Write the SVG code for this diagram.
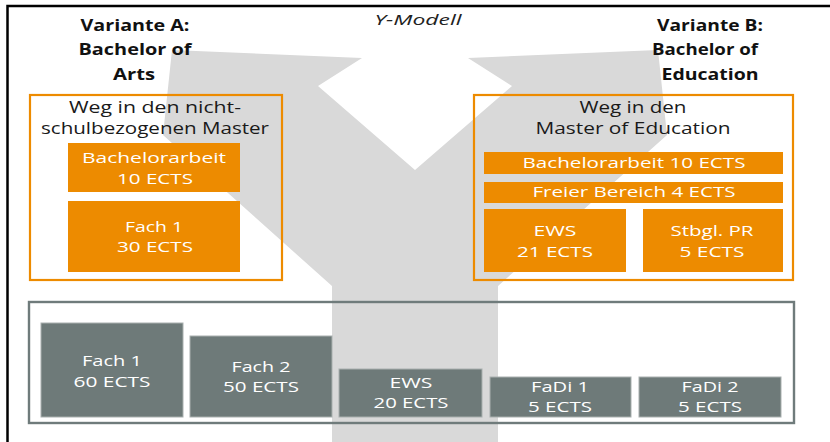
<svg xmlns="http://www.w3.org/2000/svg" width="830" height="442" viewBox="0 0 830 442">
<style>
text{font-family:"Open Sans","DejaVu Sans",sans-serif;text-anchor:middle}
.hd{font-weight:bold;font-size:16.5px;fill:#111}
.ti{font-size:16px;fill:#1a1a1a}
.w{font-size:15px;fill:#fff}
.ofr{fill:none;stroke:#ed8b00;stroke-width:2.2}
.ob{fill:#ed8b00}
.gb{fill:#6e7a79;stroke:#a9b0af;stroke-width:1}
.gfr{fill:none;stroke:#6f7b7b;stroke-width:2.4}
</style>
<rect width="830" height="442" fill="#fff"/>
<g id="y-shape">
<polygon fill="#d9d9d9" points="172,50 362,58 318,86 415,170 512,86 468,58 658,50 667,135 498,286 498,442 332,442 332,286 163,135"/>
</g>
<path d="M7.5 442 V6 H830" fill="none" stroke="#000" stroke-width="2.5"/>
<g id="title"><text x="418" y="25" font-style="italic" font-size="14" fill="#222" textLength="87" lengthAdjust="spacingAndGlyphs">Y-Modell</text></g>
<g id="variante-a">
<text class="hd" x="135" y="31" textLength="109" lengthAdjust="spacingAndGlyphs">Variante A:</text>
<text class="hd" x="135" y="55" textLength="113" lengthAdjust="spacingAndGlyphs">Bachelor of</text>
<text class="hd" x="134" y="80" textLength="42" lengthAdjust="spacingAndGlyphs">Arts</text>
</g>
<g id="variante-b">
<text class="hd" x="710" y="31" textLength="106" lengthAdjust="spacingAndGlyphs">Variante B:</text>
<text class="hd" x="705" y="55" textLength="106" lengthAdjust="spacingAndGlyphs">Bachelor of</text>
<text class="hd" x="710" y="80" textLength="97" lengthAdjust="spacingAndGlyphs">Education</text>
</g>
<g id="weg-nicht-schulbezogen">
<rect class="ofr" x="30" y="95" width="252" height="185"/>
<text class="ti" x="155" y="113" textLength="172" lengthAdjust="spacingAndGlyphs">Weg in den nicht-</text>
<text class="ti" x="155" y="134" textLength="228" lengthAdjust="spacingAndGlyphs">schulbezogenen Master</text>
</g>
<g id="a-bachelorarbeit">
<rect class="ob" x="68" y="143" width="172" height="49"/>
<text class="w" x="154" y="163" textLength="144" lengthAdjust="spacingAndGlyphs">Bachelorarbeit</text>
<text class="w" x="155" y="184" textLength="76" lengthAdjust="spacingAndGlyphs">10 ECTS</text>
</g>
<g id="a-fach1">
<rect class="ob" x="68" y="201" width="172" height="71"/>
<text class="w" x="154" y="232" textLength="58" lengthAdjust="spacingAndGlyphs">Fach 1</text>
<text class="w" x="155" y="252" textLength="76" lengthAdjust="spacingAndGlyphs">30 ECTS</text>
</g>
<g id="weg-master-education">
<rect class="ofr" x="474" y="95" width="319" height="185"/>
<text class="ti" x="633" y="113" textLength="107" lengthAdjust="spacingAndGlyphs">Weg in den</text>
<text class="ti" x="633" y="134" textLength="195" lengthAdjust="spacingAndGlyphs">Master of Education</text>
</g>
<g id="b-bachelorarbeit">
<rect class="ob" x="484" y="152" width="299" height="22"/>
<text class="w" x="634" y="168" textLength="223" lengthAdjust="spacingAndGlyphs">Bachelorarbeit 10 ECTS</text>
</g>
<g id="b-freier-bereich">
<rect class="ob" x="484" y="182" width="299" height="21"/>
<text class="w" x="634" y="197" textLength="203" lengthAdjust="spacingAndGlyphs">Freier Bereich 4 ECTS</text>
</g>
<g id="b-ews">
<rect class="ob" x="484" y="209" width="142" height="63"/>
<text class="w" x="555" y="236" textLength="43" lengthAdjust="spacingAndGlyphs">EWS</text>
<text class="w" x="555" y="257" textLength="76" lengthAdjust="spacingAndGlyphs">21 ECTS</text>
</g>
<g id="b-stbgl-pr">
<rect class="ob" x="643" y="209" width="140" height="63"/>
<text class="w" x="712" y="236" textLength="83" lengthAdjust="spacingAndGlyphs">Stbgl. PR</text>
<text class="w" x="712" y="257" textLength="65" lengthAdjust="spacingAndGlyphs">5 ECTS</text>
</g>
<g id="gemeinsam">
<rect class="gfr" x="29" y="302" width="765" height="121"/>
</g>
<g id="g-fach1">
<rect class="gb" x="41" y="323" width="142" height="94"/>
<text class="w" x="112" y="366" textLength="60" lengthAdjust="spacingAndGlyphs">Fach 1</text>
<text class="w" x="112" y="387" textLength="77" lengthAdjust="spacingAndGlyphs">60 ECTS</text>
</g>
<g id="g-fach2">
<rect class="gb" x="190" y="336" width="142" height="81"/>
<text class="w" x="261" y="372" textLength="59" lengthAdjust="spacingAndGlyphs">Fach 2</text>
<text class="w" x="261" y="392" textLength="76" lengthAdjust="spacingAndGlyphs">50 ECTS</text>
</g>
<g id="g-ews">
<rect class="gb" x="339" y="369" width="143" height="48"/>
<text class="w" x="411" y="388" textLength="43" lengthAdjust="spacingAndGlyphs">EWS</text>
<text class="w" x="411" y="408" textLength="75" lengthAdjust="spacingAndGlyphs">20 ECTS</text>
</g>
<g id="g-fadi1">
<rect class="gb" x="490" y="377" width="141" height="40"/>
<text class="w" x="560" y="392" textLength="58" lengthAdjust="spacingAndGlyphs">FaDi 1</text>
<text class="w" x="560" y="412" textLength="64" lengthAdjust="spacingAndGlyphs">5 ECTS</text>
</g>
<g id="g-fadi2">
<rect class="gb" x="639" y="377" width="142" height="40"/>
<text class="w" x="710" y="392" textLength="57" lengthAdjust="spacingAndGlyphs">FaDi 2</text>
<text class="w" x="710" y="412" textLength="64" lengthAdjust="spacingAndGlyphs">5 ECTS</text>
</g>
</svg>
